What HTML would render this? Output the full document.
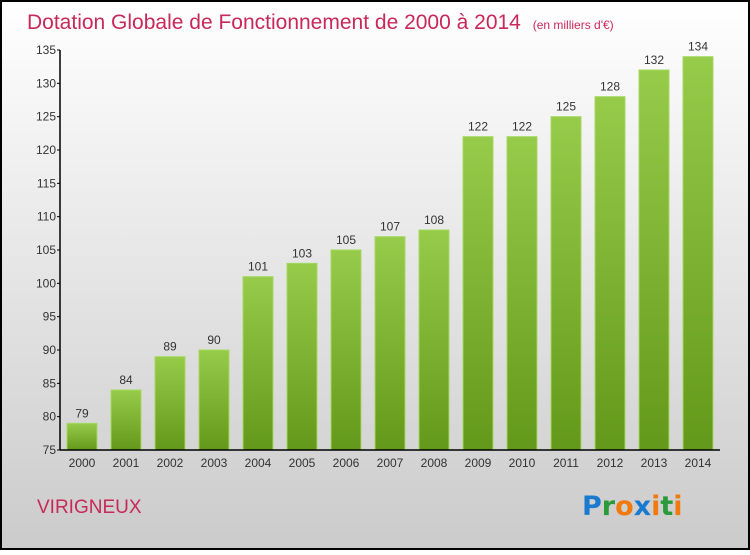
<!DOCTYPE html>
<html><head><meta charset="utf-8">
<style>
html,body{margin:0;padding:0;}
body{width:750px;height:550px;overflow:hidden;font-family:"Liberation Sans",sans-serif;}
</style></head>
<body>
<svg id="chart" width="750" height="550" xmlns="http://www.w3.org/2000/svg">
<defs>
<linearGradient id="bg" x1="0" y1="0" x2="0" y2="1"><stop offset="0" stop-color="#ffffff"/><stop offset="1" stop-color="#cbcbcb"/></linearGradient>
<linearGradient id="bar" x1="0" y1="0" x2="0" y2="1"><stop offset="0" stop-color="#97cb4a"/><stop offset="1" stop-color="#63991a"/></linearGradient>
</defs>
<rect x="1" y="1" width="748" height="548" fill="url(#bg)" stroke="#000" stroke-width="2"/>
<text x="27" y="29" font-size="21" fill="#c8285a" font-weight="300">Dotation Globale de Fonctionnement de 2000 à 2014 <tspan font-size="12" dx="6">(en milliers d'€)</tspan></text>
<g id="plot"></g>
<text x="37" y="513" font-size="19" fill="#c8285a">VIRIGNEUX</text>
<g font-size="27" font-weight="bold" font-family="'DejaVu Sans',sans-serif">
<text x="582" y="515"><tspan fill="#1a7ad0">P</tspan><tspan fill="#2a9a3a">r</tspan><tspan fill="#f07a10">o</tspan><tspan fill="#1a7ad0">x</tspan><tspan fill="#f07a10">i</tspan><tspan fill="#2a9a3a">t</tspan><tspan fill="#f07a10">i</tspan></text>
</g>
</svg>
<script>
const years=["2000","2001","2002","2003","2004","2005","2006","2007","2008","2009","2010","2011","2012","2013","2014"];
const values=[79,84,89,90,101,103,105,107,108,122,122,125,128,132,134];
const yTicks=[75,80,85,90,95,100,105,110,115,120,125,130,135];
const NS="http://www.w3.org/2000/svg";
const g=document.getElementById('plot');
const y=v=>450-(v-75)*400/60;
const x=i=>82+i*44;
function mk(t,a,txt){const e=document.createElementNS(NS,t);for(const k in a)e.setAttribute(k,a[k]);if(txt!==undefined)e.textContent=txt;g.appendChild(e);return e;}
values.forEach((v,i)=>{
 const r=mk('rect',{x:x(i)-15,y:y(v),width:30,height:450-y(v),fill:'url(#bar)',stroke:'#a6d860','stroke-width':1});
 
 
 const t=mk('text',{x:x(i),y:y(v)-6,'text-anchor':'middle','font-size':12,fill:'#333'},String(v));
 
 
 const xl=mk('text',{x:x(i),y:467,'text-anchor':'middle','font-size':12,fill:'#333'},years[i]);
 
 
});
yTicks.forEach(v=>{
 const l=mk('line',{x1:57,x2:60,y1:y(v),y2:y(v),stroke:'#000'});
 
 
 const t=mk('text',{x:56,y:y(v)+4,'text-anchor':'end','font-size':12,fill:'#333'},String(v));
 
 
});
const ya=mk('line',{x1:60,x2:60,y1:50,y2:450,stroke:'#000','stroke-width':1.5});


const xa=mk('line',{x1:60,x2:720,y1:450,y2:450,stroke:'#000','stroke-width':1.5});


</script>
</body></html>
